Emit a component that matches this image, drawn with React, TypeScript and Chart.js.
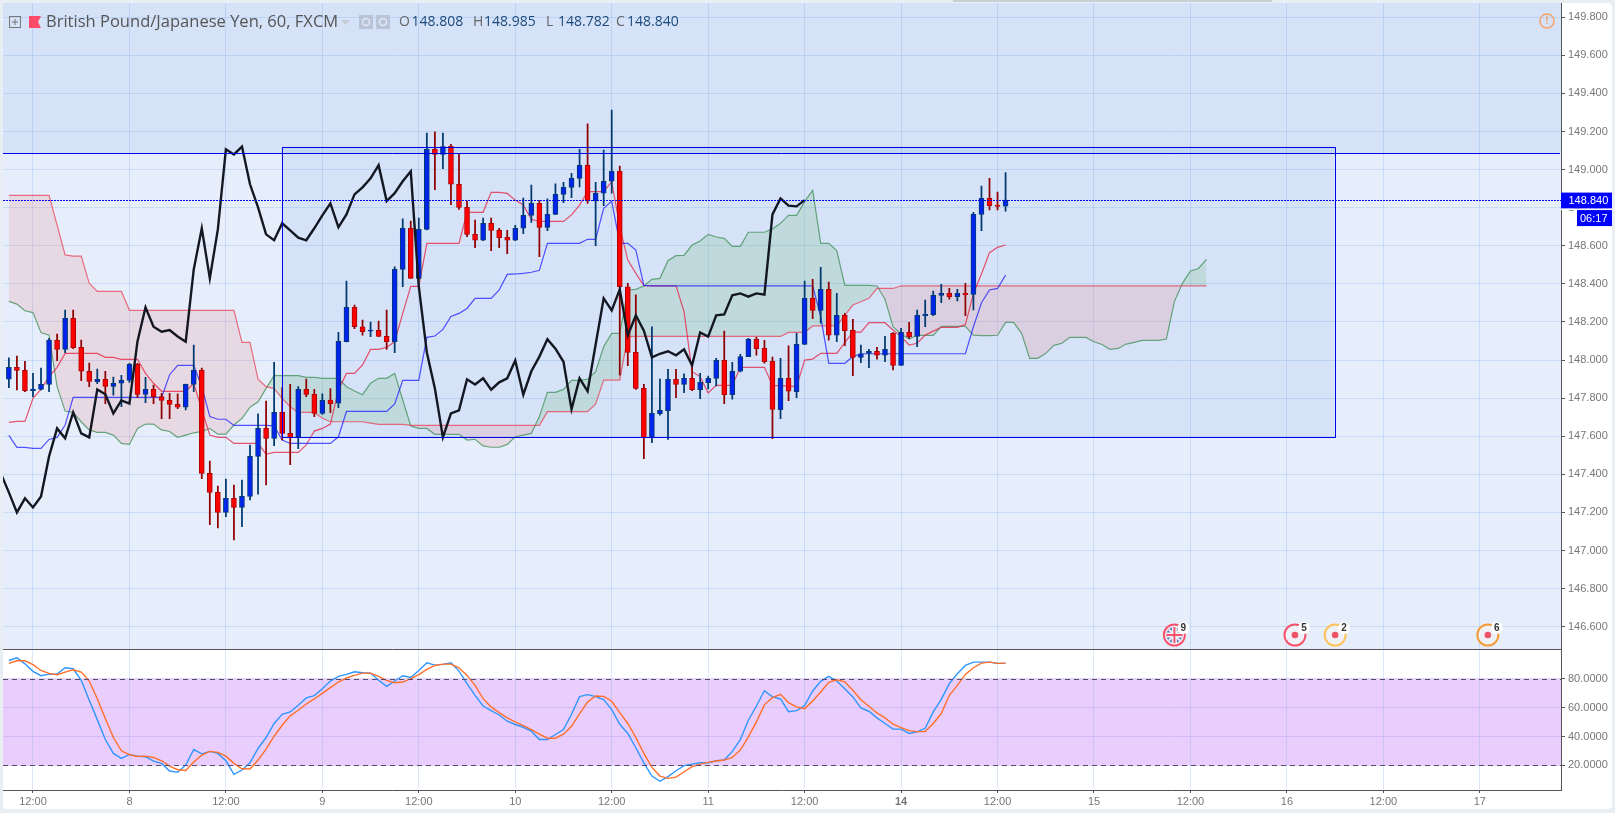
import React, { useEffect, useRef } from "react";
import { Chart, registerables } from "chart.js";

Chart.register(...registerables);

const opens = [147.899,147.962,147.946,147.839,147.846,147.872,148.105,148.056,148.219,148.067,
147.941,147.886,147.899,147.862,147.878,147.893,147.977,147.820,147.846,147.808,
147.788,147.767,147.752,147.872,147.946,147.405,147.305,147.200,147.274,147.226,
147.284,147.494,147.641,147.589,147.725,147.615,147.596,147.846,147.820,147.720,
147.790,147.773,148.096,148.277,148.175,148.151,148.156,148.124,148.096,148.476,
148.692,148.429,148.686,149.107,149.080,149.122,148.923,148.802,148.660,148.629,
148.718,148.681,148.644,148.629,148.692,148.760,148.823,148.697,148.765,148.870,
148.907,148.954,149.023,148.835,148.876,148.939,148.991,148.385,148.040,147.851,
147.594,147.718,147.734,147.899,147.872,147.904,147.844,147.881,147.904,147.998,
147.818,147.941,148.018,148.109,148.061,147.993,147.739,147.904,147.834,148.082,
148.324,148.261,148.371,148.130,148.235,148.156,148.014,148.035,148.046,148.025,
148.140,147.972,148.145,148.124,148.233,148.238,148.340,148.350,148.333,148.350,
148.345,148.765,148.849,148.814,148.808];

const closes = [147.962,147.946,147.839,147.848,147.872,148.105,148.056,148.219,148.065,147.941,
147.888,147.899,147.862,147.878,147.893,147.977,147.820,147.846,147.808,147.788,
147.767,147.752,147.872,147.946,147.405,147.305,147.200,147.274,147.226,147.284,
147.494,147.641,147.589,147.725,147.615,147.594,147.846,147.820,147.720,147.788,
147.771,148.098,148.277,148.175,148.149,148.158,148.124,148.096,148.476,148.692,
148.429,148.686,149.107,149.080,149.121,148.923,148.802,148.660,148.629,148.718,
148.681,148.643,148.629,148.692,148.760,148.823,148.697,148.765,148.870,148.907,
148.954,149.023,148.835,148.876,148.939,148.991,148.385,148.040,147.851,147.594,
147.720,147.736,147.899,147.872,147.904,147.844,147.883,147.904,147.998,147.818,
147.941,148.018,148.109,148.060,147.991,147.741,147.904,147.836,148.082,148.324,
148.261,148.371,148.130,148.235,148.154,148.014,148.033,148.046,148.025,148.056,
147.972,148.145,148.123,148.235,148.240,148.340,148.350,148.333,148.350,148.343,
148.765,148.849,148.811,148.807,148.840];

const highs = [148.011,148.021,147.993,147.930,147.958,148.114,148.137,148.263,148.263,148.105,
147.984,147.953,147.941,147.911,147.920,147.983,147.983,147.909,147.869,147.825,
147.825,147.822,147.874,148.079,147.958,147.470,147.338,147.375,147.344,147.370,
147.554,147.717,147.785,147.988,147.855,147.872,147.860,147.900,147.846,147.822,
147.850,148.145,148.415,148.289,148.210,148.200,148.205,148.263,148.489,148.741,
148.730,148.746,149.192,149.198,149.192,149.133,149.086,148.835,148.735,148.746,
148.746,148.692,148.681,148.707,148.851,148.919,148.837,148.846,148.925,148.933,
148.981,149.107,149.240,148.933,149.103,149.313,149.019,148.403,148.342,147.872,
148.175,147.900,147.951,147.951,147.927,147.961,147.930,147.916,148.009,148.152,
147.988,148.030,148.114,148.119,148.103,148.016,148.009,148.074,148.140,148.415,
148.424,148.487,148.410,148.350,148.245,148.214,148.079,148.056,148.067,148.124,
148.144,148.166,148.198,148.263,148.315,148.362,148.397,148.376,148.371,148.403,
148.776,148.914,148.954,148.882,148.985];

const lows = [147.855,147.843,147.834,147.808,147.843,147.834,147.997,148.039,148.060,147.892,
147.860,147.876,147.771,147.816,147.755,147.883,147.804,147.776,147.771,147.692,
147.692,147.745,147.738,147.834,147.377,147.135,147.118,147.177,147.055,147.125,
147.265,147.296,147.344,147.550,147.580,147.450,147.534,147.808,147.702,147.715,
147.724,147.750,148.095,148.165,148.131,148.123,148.123,148.056,148.039,148.385,
148.429,148.423,148.683,148.895,149.005,148.816,148.791,148.648,148.590,148.627,
148.574,148.590,148.559,148.627,148.664,148.723,148.543,148.679,148.763,148.826,
148.853,148.909,148.823,148.601,148.811,148.876,147.921,147.970,147.846,147.482,
147.566,147.711,147.583,147.802,147.829,147.839,147.797,147.848,147.864,147.771,
147.795,147.937,148.018,148.026,147.983,147.587,147.692,147.787,147.802,148.082,
148.217,148.193,148.105,148.096,148.075,147.918,147.986,147.960,148.005,147.991,
147.948,147.972,148.114,148.070,148.175,148.233,148.301,148.320,148.310,148.233,
148.263,148.679,148.788,148.788,148.782];

const tenkan = [147.673,147.678,147.678,147.799,147.846,147.913,147.962,148.035,148.035,148.035,
148.035,148.035,148.014,148.014,148.004,148.004,148.004,147.930,147.878,147.836,
147.836,147.836,147.836,147.878,147.738,147.606,147.594,147.594,147.562,147.562,
147.562,147.562,147.506,147.515,147.515,147.515,147.515,147.554,147.627,147.641,
147.664,147.843,147.930,147.930,147.974,148.056,148.056,148.067,148.096,148.245,
148.387,148.387,148.613,148.613,148.613,148.613,148.613,148.776,148.776,148.776,
148.881,148.881,148.875,148.840,148.814,148.739,148.728,148.728,148.728,148.728,
148.762,148.814,148.884,148.884,148.884,148.937,148.700,148.525,148.455,148.391,
148.390,148.390,148.390,148.390,148.254,147.939,147.913,147.827,147.867,147.867,
147.867,147.962,147.962,147.962,147.962,147.867,147.864,147.864,147.860,148.000,
148.005,148.035,148.035,148.035,148.091,148.147,148.147,148.196,148.196,148.196,
148.158,148.123,148.079,148.088,148.131,148.152,148.172,148.172,148.172,148.186,
148.350,148.452,148.564,148.592,148.604];

const kijun = [147.604,147.541,147.541,147.536,147.536,147.583,147.594,147.659,147.804,147.804,
147.804,147.804,147.804,147.804,147.804,147.804,147.804,147.804,147.804,147.804,
147.923,147.972,147.972,147.972,147.860,147.703,147.689,147.689,147.657,147.657,
147.657,147.657,147.657,147.654,147.580,147.562,147.562,147.562,147.562,147.562,
147.562,147.597,147.730,147.730,147.730,147.730,147.730,147.730,147.769,147.893,
147.893,147.893,148.119,148.126,148.161,148.229,148.245,148.271,148.324,148.324,
148.324,148.368,148.450,148.452,148.455,148.461,148.471,148.613,148.613,148.613,
148.613,148.613,148.634,148.634,148.797,148.835,148.613,148.613,148.578,148.392,
148.390,148.390,148.390,148.390,148.390,148.390,148.390,148.390,148.390,148.390,
148.390,148.390,148.390,148.390,148.390,148.390,148.390,148.390,148.390,148.390,
148.390,148.228,147.983,147.983,147.983,148.018,148.033,148.033,148.033,148.033,
148.033,148.033,148.033,148.033,148.033,148.033,148.033,148.033,148.033,148.033,
148.175,148.301,148.368,148.376,148.446];

// lagging line: first value sits one bar left of the first candle
const chikou = [147.405,147.305,147.200,147.274,147.226,147.284,
147.494,147.641,147.589,147.725,147.615,147.594,147.846,147.820,147.720,147.788,
147.771,148.098,148.277,148.175,148.149,148.158,148.124,148.096,148.476,148.692,
148.429,148.686,149.107,149.080,149.121,148.923,148.802,148.660,148.629,148.718,
148.681,148.643,148.629,148.692,148.760,148.823,148.697,148.765,148.870,148.907,
148.954,149.023,148.835,148.876,148.939,148.991,148.385,148.040,147.851,147.594,
147.720,147.736,147.899,147.872,147.904,147.844,147.883,147.904,147.998,147.818,
147.941,148.018,148.109,148.060,147.991,147.741,147.904,147.836,148.082,148.324,
148.261,148.371,148.130,148.235,148.154,148.014,148.033,148.046,148.025,148.056,
147.972,148.145,148.123,148.235,148.240,148.340,148.350,148.333,148.350,148.343,
148.765,148.849,148.811,148.807,148.840];

const spanRed = [148.865,148.865,148.865,148.865,148.865,148.865,148.709,148.552,148.546,148.546,
148.403,148.361,148.361,148.361,148.361,148.261,148.261,148.261,148.261,148.261,
148.261,148.261,148.261,148.261,148.261,148.261,148.261,148.261,148.261,148.093,
148.093,147.899,147.860,147.850,147.799,147.755,147.725,147.725,147.725,147.694,
147.676,147.676,147.676,147.676,147.676,147.669,147.662,147.662,147.662,147.662,
147.657,147.657,147.657,147.657,147.657,147.657,147.657,147.657,147.657,147.657,
147.657,147.657,147.657,147.657,147.657,147.657,147.657,147.729,147.729,147.729,
147.729,147.729,147.729,147.769,147.895,147.895,147.895,148.123,148.124,148.124,
148.124,148.124,148.124,148.124,148.124,148.124,148.124,148.124,148.124,148.124,
148.124,148.124,148.124,148.124,148.124,148.124,148.124,148.145,148.145,148.145,
148.179,148.179,148.179,148.179,148.235,148.289,148.306,148.324,148.376,148.376,
148.376,148.390,148.390,148.390,148.390,148.390,148.390,148.390,148.390,148.390,
148.390,148.390,148.390,148.390,148.390,148.390,148.390,148.390,148.390,148.390,
148.390,148.390,148.390,148.390,148.390,148.390,148.390,148.390,148.390,148.390,
148.390,148.390,148.390,148.390,148.390,148.390,148.390,148.390,148.390,148.390];

const spanGreen = [148.308,148.294,148.259,148.249,148.144,148.131,147.860,147.732,147.725,147.676,
147.633,147.620,147.620,147.606,147.562,147.557,147.641,147.664,147.664,147.633,
147.625,147.594,147.606,147.618,147.625,147.641,147.611,147.611,147.659,147.694,
147.752,147.781,147.851,147.918,147.918,147.918,147.918,147.909,147.909,147.904,
147.904,147.904,147.860,147.837,147.818,147.878,147.904,147.904,147.930,147.790,
147.654,147.641,147.641,147.610,147.610,147.610,147.610,147.580,147.584,147.549,
147.542,147.542,147.557,147.597,147.606,147.615,147.703,147.830,147.830,147.846,
147.893,147.893,147.899,147.939,148.070,148.140,148.140,148.368,148.371,148.389,
148.424,148.429,148.522,148.548,148.550,148.604,148.625,148.660,148.646,148.639,
148.597,148.597,148.671,148.671,148.671,148.688,148.718,148.760,148.760,148.832,
148.891,148.613,148.613,148.574,148.392,148.392,148.392,148.392,148.389,148.319,
148.175,148.137,148.110,148.130,148.130,148.130,148.177,148.177,148.177,148.177,
148.131,148.128,148.128,148.130,148.198,148.198,148.140,148.009,148.009,148.035,
148.077,148.088,148.119,148.119,148.119,148.096,148.082,148.056,148.061,148.084,
148.093,148.103,148.103,148.103,148.110,148.307,148.403,148.468,148.481,148.529];

const stochK = [92.6,94.5,90.3,85.1,82.1,83.2,83.2,87.6,86.9,78.9,
65.1,51.7,37.9,28.3,24.8,27.6,26.4,26.0,23.0,21.4,
16.1,15.2,20.2,31.0,28.0,29.7,28.3,23.2,13.8,16.8,
21.8,31.7,39.3,49.0,55.4,57.0,61.6,66.7,68.3,73.1,
78.4,81.6,83.0,84.8,84.1,83.9,78.9,74.7,78.4,82.1,
80.9,85.7,91.0,89.4,89.9,91.0,85.3,76.6,68.5,61.1,
57.9,54.9,50.6,48.3,46.4,43.7,37.9,37.9,41.4,44.8,
55.4,67.6,69.0,67.6,65.5,58.6,48.5,42.1,32.2,21.8,
12.6,9.0,12.2,16.3,19.8,20.9,21.8,21.8,23.2,23.7,
29.7,37.9,51.3,61.1,71.7,67.4,66.0,57.2,57.9,61.4,
71.5,78.2,81.6,78.4,73.1,67.4,59.8,57.5,52.9,49.0,
45.1,45.1,42.1,43.2,45.7,57.0,65.7,76.6,83.4,89.2,
91.5,91.5,91.5,90.6,90.6];

const stochD = [90.6,92.4,92.4,89.7,85.7,83.7,82.8,84.6,86.2,84.6,
78.4,66.2,52.4,39.3,30.1,27.4,26.2,26.4,25.5,23.2,
19.5,17.0,16.5,22.3,27.1,29.7,29.0,26.4,21.4,17.7,
17.5,23.7,31.3,40.2,47.8,54.3,58.2,62.5,66.0,69.9,
73.8,77.7,80.5,82.3,83.9,83.9,81.6,78.9,77.2,77.7,
80.0,82.8,86.4,89.2,90.1,90.1,87.6,82.3,75.4,66.2,
60.5,56.5,52.9,50.1,47.6,44.8,41.6,38.8,38.8,41.6,
47.1,55.9,63.9,68.0,67.8,64.4,56.5,49.0,39.3,28.3,
18.6,12.6,11.0,11.9,15.6,19.1,20.9,22.1,23.0,23.7,
25.5,30.6,39.8,50.1,62.1,66.9,69.2,63.4,60.5,59.3,
64.6,70.8,77.5,79.3,77.9,72.0,65.5,60.9,56.3,52.9,
48.5,46.2,44.1,43.4,43.4,49.0,55.9,68.5,75.4,83.0,
87.6,90.8,91.5,90.6,90.8];

const priceTicks = [149.8,149.6,149.4,149.2,149.0,148.8,148.6,148.4,148.2,148.0,147.8,147.6,147.4,147.2,147.0,146.8,146.6];
const stochTicks = [80,60,40,20];
const timeTickBars = [3,15,27,39,51,63,75,87,99,111,123,135,147,159,171,183];
const timeTickLabels = ["12:00","8","12:00","9","12:00","10","12:00","11","12:00","14","12:00","15","12:00","16","12:00","17"];

const eventBars = [145,160,165,184];
const eventCounts = ["9","5","2","6"];
const eventRings = ["#f9536b","#f9536b","#fdc356","#f49a36"];

const levelLine = 149.086;
const boxLeftBar = 33.93;
const boxRightBar = 164.96;
const boxTop = 149.12;
const boxBottom = 147.594;
const lastPrice = 148.84;
const stochUpper = 80;
const stochLower = 20;

const titleText = "British Pound/Japanese Yen, 60, FXCM";
const ohlc = [["O","148.808"],["H","148.985"],["L","148.782"],["C","148.840"]];

const UI = '"Liberation Sans", Arial, sans-serif';

const panePlugin = {
  id: "panes",
  beforeDraw(c: any) {
    const { ctx, chartArea: a, scales } = c;
    const y = scales.y, y2 = scales.y2, x = scales.x;
    ctx.save();
    ctx.fillStyle = "#e9eef2";
    ctx.fillRect(0, 0, c.width, c.height);
    ctx.fillStyle = "#ffffff";
    ctx.beginPath();
    ctx.roundRect(3, 3, 1609, 806, 4);
    ctx.fill();
    // top toolbar shadow
    ctx.fillStyle = "#c9ced2";
    ctx.fillRect(953, 0, 319, 2);
    ctx.fillStyle = "#e7eefb";
    ctx.fillRect(a.left, a.top, a.width, y.bottom - a.top);
    ctx.fillStyle = "rgba(30,115,225,0.09)";
    const ly = y.getPixelForValue(levelLine);
    ctx.fillRect(a.left, a.top, a.width, ly - a.top);
    const bl = x.getPixelForValue(boxLeftBar), br = x.getPixelForValue(boxRightBar);
    const bt = y.getPixelForValue(boxTop), bb = y.getPixelForValue(boxBottom);
    ctx.fillRect(bl, bt, br - bl, bb - bt);
    ctx.fillStyle = "#e9cefd";
    const u = y2.getPixelForValue(stochUpper), d = y2.getPixelForValue(stochLower);
    ctx.fillRect(a.left, u, a.width, d - u);
    ctx.restore();
  },
  afterDatasetsDraw(c: any) {
    const { ctx, chartArea: a, scales } = c;
    const y = scales.y, y2 = scales.y2, x = scales.x;
    ctx.save();
    ctx.strokeStyle = "#0000e6";
    ctx.lineWidth = 1;
    const ly = Math.round(y.getPixelForValue(levelLine)) + 0.5;
    ctx.beginPath(); ctx.moveTo(a.left, ly); ctx.lineTo(a.right - 1, ly); ctx.stroke();
    const bl = Math.round(x.getPixelForValue(boxLeftBar)) + 0.5, br = Math.round(x.getPixelForValue(boxRightBar)) + 0.5;
    const bt = Math.round(y.getPixelForValue(boxTop)) + 0.5, bb = Math.round(y.getPixelForValue(boxBottom)) + 0.5;
    ctx.strokeRect(bl, bt, br - bl, bb - bt);
    ctx.strokeStyle = "#0000ff";
    ctx.setLineDash([2, 1]);
    const py = Math.round(y.getPixelForValue(lastPrice)) + 0.5;
    ctx.beginPath(); ctx.moveTo(a.left, py); ctx.lineTo(a.right, py); ctx.stroke();
    ctx.strokeStyle = "#5a4a6a";
    ctx.setLineDash([5, 4]);
    [stochUpper, stochLower].forEach((v) => {
      const p = Math.round(y2.getPixelForValue(v)) + 0.5;
      ctx.beginPath(); ctx.moveTo(a.left, p); ctx.lineTo(a.right, p); ctx.stroke();
    });
    ctx.setLineDash([]);
    ctx.strokeStyle = "#555";
    const div = Math.round(y.bottom) + 0.5;
    ctx.beginPath(); ctx.moveTo(a.left, div); ctx.lineTo(a.right, div); ctx.stroke();
    // calendar events
    const evY = 635;
    eventBars.forEach((b, i) => {
      const ex = x.getPixelForValue(b);
      ctx.fillStyle = "#eef2f8";
      ctx.beginPath(); ctx.arc(ex, evY, 10.5, 0, Math.PI * 2); ctx.fill();
      ctx.strokeStyle = eventRings[i];
      ctx.lineWidth = 2;
      ctx.beginPath(); ctx.arc(ex, evY, 10.5, 0, Math.PI * 2); ctx.stroke();
      if (i === 0) {
        ctx.fillStyle = "#6a78b8";
        ctx.beginPath(); ctx.arc(ex, evY, 8, 0, Math.PI * 2); ctx.fill();
        ctx.fillStyle = "#eef2f8";
        ctx.save();
        ctx.translate(ex, evY);
        ctx.rotate(Math.PI / 4); ctx.fillRect(-8, -1, 16, 2);
        ctx.rotate(Math.PI / 2); ctx.fillRect(-8, -1, 16, 2);
        ctx.restore();
        ctx.fillRect(ex - 8, evY - 2.5, 16, 5);
        ctx.fillRect(ex - 2.5, evY - 8, 5, 16);
        ctx.fillStyle = "#f9536b";
        ctx.fillRect(ex - 8, evY - 1, 16, 2);
        ctx.fillRect(ex - 1, evY - 8, 2, 16);
      } else {
        ctx.fillStyle = "#ef5366";
        ctx.beginPath(); ctx.arc(ex, evY, 3.3, 0, Math.PI * 2); ctx.fill();
      }
      ctx.fillStyle = "#ffffff";
      ctx.beginPath(); ctx.arc(ex + 9, evY - 7, 6, 0, Math.PI * 2); ctx.fill();
      ctx.fillStyle = "#333";
      ctx.font = `bold 10px ${UI}`;
      ctx.textAlign = "center"; ctx.textBaseline = "middle";
      ctx.fillText(eventCounts[i], ex + 9, evY - 7);
    });
    ctx.restore();
  },
  afterDraw(c: any) {
    const { ctx, scales } = c;
    const y = scales.y;
    ctx.save();
    // price label
    const py = y.getPixelForValue(lastPrice);
    ctx.fillStyle = "#0000ff";
    ctx.fillRect(1561, py - 7.5, 51, 16);
    ctx.fillStyle = "#ffffff";
    ctx.fillRect(1561, py + 8.5, 51, 1.5);
    ctx.fillStyle = "#0000ff";
    ctx.fillRect(1577, py + 10, 35, 16);
    ctx.fillStyle = "#ffffff";
    ctx.font = `11px ${UI}`;
    ctx.textBaseline = "middle"; ctx.textAlign = "left";
    ctx.fillText("148.840", 1568.5, py + 0.5);
    ctx.fillText("06:17", 1580, py + 18.5);
    // alert icon
    ctx.strokeStyle = "#f7a36a"; ctx.lineWidth = 1.5;
    ctx.beginPath(); ctx.arc(1547, 21, 7, 0, Math.PI * 2); ctx.stroke();
    ctx.fillStyle = "#f7a36a"; ctx.font = `bold 10px ${UI}`; ctx.textAlign = "center";
    ctx.fillText("!", 1547, 21.5);
    // header
    ctx.strokeStyle = "#777"; ctx.lineWidth = 1;
    ctx.strokeRect(9.5, 16.5, 11, 11);
    ctx.beginPath(); ctx.moveTo(12, 22); ctx.lineTo(18, 22); ctx.moveTo(15, 19); ctx.lineTo(15, 25); ctx.stroke();
    ctx.fillStyle = "#ff4a68";
    ctx.beginPath(); ctx.moveTo(29, 16); ctx.lineTo(41, 16); ctx.lineTo(38, 22); ctx.lineTo(41, 28); ctx.lineTo(29, 28); ctx.closePath(); ctx.fill();
    ctx.textAlign = "left"; ctx.textBaseline = "middle";
    ctx.fillStyle = "#555";
    ctx.font = `16.55px "Open Sans", sans-serif`;
    ctx.fillText(titleText, 46, 22);
    ctx.fillStyle = "#c6ccd4";
    ctx.beginPath(); ctx.moveTo(341, 20); ctx.lineTo(350, 20); ctx.lineTo(345.5, 25); ctx.closePath(); ctx.fill();
    ctx.fillStyle = "#b9c4d8";
    ctx.fillRect(359, 15, 14, 14);
    ctx.fillRect(376, 15, 14, 14);
    ctx.strokeStyle = "#e4e9f4"; ctx.lineWidth = 1.5;
    ctx.beginPath(); ctx.arc(366, 22, 3.5, 0, Math.PI * 2); ctx.stroke();
    ctx.beginPath(); ctx.arc(383, 22, 3.5, 0, Math.PI * 2); ctx.stroke();
    const labelX = [399, 473, 546, 616];
    const valueX = [411.5, 484, 558, 627];
    ctx.font = `14px "Open Sans", sans-serif`;
    ohlc.forEach(([k, v], i) => {
      ctx.fillStyle = "#666";
      ctx.fillText(k, labelX[i], 22);
      ctx.fillStyle = "#1d4a7a";
      ctx.fillText(v, valueX[i], 22);
    });
    ctx.restore();
  },
};

const series = (vals: number[], start = 0) => vals.map((v, i) => ({ x: i + start, y: v }));

export default function App() {
  const ref = useRef<HTMLCanvasElement>(null);
  useEffect(() => {
    const upColor = "#0024ee", dnColor = "#ff0000";
    const isUp = closes.map((c, i) => c >= opens[i]);
    const line = (data: any[], color: string, width: number, order: number, extra: any = {}) => ({
      type: "line", data, borderColor: color, borderWidth: width, pointRadius: 0, tension: 0, order, yAxisID: "y", fill: false, ...extra,
    });
    const chart = new Chart(ref.current as HTMLCanvasElement, {
      type: "bar",
      data: {
        datasets: [
          line(series(spanRed), "rgba(232,60,80,0.72)", 1.2, 6, {
            fill: { target: 1, above: "rgba(236,133,136,0.2)", below: "rgba(112,184,116,0.2)" },
          }),
          line(series(spanGreen), "rgba(70,150,100,0.85)", 1.2, 6),
          line(series(kijun), "rgba(30,30,255,0.75)", 1.2, 5),
          line(series(tenkan), "rgba(230,30,60,0.75)", 1.2, 5),
          {
            type: "bar", order: 4, yAxisID: "y", grouped: false, barThickness: 1.1,
            data: highs.map((h, i) => ({ x: i, y: [lows[i], h] })),
            backgroundColor: isUp.map((u) => (u ? "#003a70" : "#8f0000")),
          },
          {
            type: "bar", order: 3, yAxisID: "y", grouped: false, barThickness: 5,
            data: opens.map((o, i) => ({ x: i, y: [o, closes[i]] })),
            backgroundColor: isUp.map((u) => (u ? upColor : dnColor)),
            borderColor: isUp.map((u) => (u ? "#003a70" : "#b00000")),
            borderWidth: 1, borderSkipped: false,
          },
          line(series(chikou, -1), "#131722", 2.4, 2),
          line(series(stochK), "#2f96ff", 1.4, 1, { yAxisID: "y2" }),
          line(series(stochD), "#ff6f2a", 1.4, 0, { yAxisID: "y2" }),
        ] as any,
      },
      options: {
        animation: false,
        responsive: false,
        devicePixelRatio: 1,
        layout: { padding: { left: 3, top: 3, right: 0, bottom: 0 } },
        plugins: { legend: { display: false }, tooltip: { enabled: false }, title: { display: false } },
        scales: {
          x: {
            type: "linear", min: -0.73, max: 193.1, offset: false,
            afterBuildTicks: (s: any) => { s.ticks = timeTickBars.map((value) => ({ value })); },
            afterFit: (s: any) => { s.height = 23; s.paddingLeft = 0; s.paddingRight = 0; },
            grid: { offset: false, color: "rgba(110,160,225,0.24)", lineWidth: 1, tickLength: 3, tickColor: "#555" },
            border: { color: "#555", width: 1 },
            ticks: {
              autoSkip: false, maxRotation: 0, minRotation: 0, padding: 2, color: "#777",
              font: (ctx: any) => ({ family: UI, size: 11, weight: ctx.tick && ctx.tick.value === 111 ? "bold" : "normal" }),
              callback: (v: any) => timeTickLabels[timeTickBars.indexOf(v)],
            },
          },
          y: {
            type: "linear", position: "right", stack: "panes", stackWeight: 646.3, min: 146.481, max: 149.875,
            afterBuildTicks: (s: any) => { s.ticks = priceTicks.map((value) => ({ value })); },
            afterFit: (s: any) => { s.width = 54; s.paddingTop = 0; s.paddingBottom = 0; },
            grid: { color: "rgba(110,160,225,0.24)", tickLength: 4, tickColor: "#555" },
            border: { color: "#555", width: 1 },
            ticks: { padding: 3, color: "#777", font: { family: UI, size: 11 }, autoSkip: false, callback: (v: any) => Number(v).toFixed(3) },
          },
          y2: {
            type: "linear", position: "right", stack: "panes", stackWeight: 140.7, min: 2.97, max: 100.37,
            afterBuildTicks: (s: any) => { s.ticks = stochTicks.map((value) => ({ value })); },
            afterFit: (s: any) => { s.width = 54; s.paddingTop = 0; s.paddingBottom = 0; },
            grid: { color: "rgba(120,120,220,0.2)", tickLength: 4, tickColor: "#555" },
            border: { color: "#555", width: 1 },
            ticks: { padding: 3, color: "#777", font: { family: UI, size: 11 }, autoSkip: false, callback: (v: any) => Number(v).toFixed(4) },
          },
        },
      } as any,
      plugins: [panePlugin],
    } as any);
    return () => chart.destroy();
  }, []);
  return (
    <div style={{ position: "absolute", left: 0, top: 0, width: 1615, height: 813 }}>
      <canvas ref={ref} width={1615} height={813} style={{ display: "block", width: 1615, height: 813 }} />
    </div>
  );
}
